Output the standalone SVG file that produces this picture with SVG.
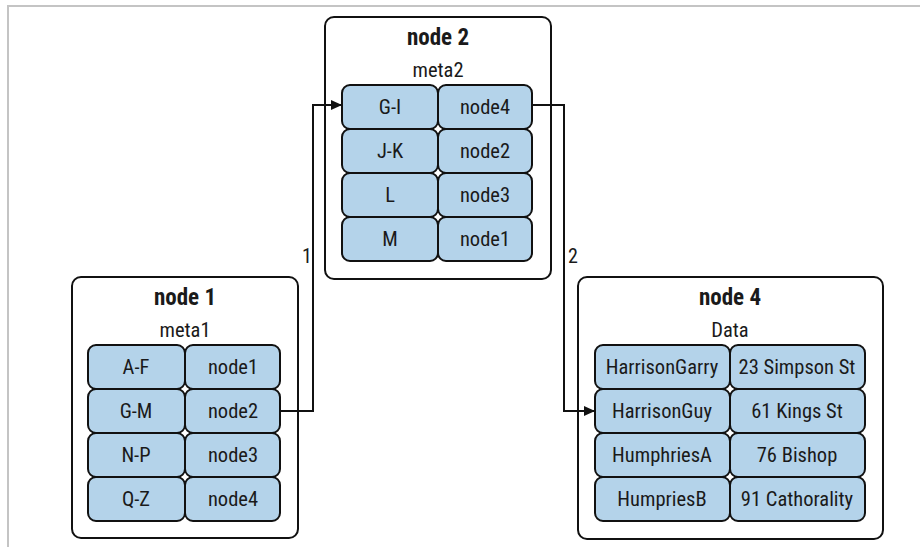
<svg xmlns="http://www.w3.org/2000/svg" width="920" height="547" viewBox="0 0 920 547">
  <defs>
    <style>
      .frame { fill: none; stroke: #c4c4c4; stroke-width: 2; }
      .box { fill: #ffffff; stroke: #111111; stroke-width: 2; }
      .cell { fill: #b4d3ea; stroke: #111111; stroke-width: 2; }
      .link { fill: none; stroke: #111111; stroke-width: 2; }
      text { font-family: "Roboto Condensed", "Liberation Sans Narrow", "Liberation Sans", sans-serif; fill: #1a1a1a; text-anchor: middle; }
      .title { font-size: 23px; font-weight: bold; }
      .sub { font-size: 20.5px; }
      .val { font-size: 20.5px; }
      .num { font-size: 20px; text-anchor: start; }
    </style>
    <marker id="arrow" markerWidth="12" markerHeight="10" refX="11" refY="5" orient="auto" markerUnits="userSpaceOnUse">
      <path d="M0,0 L11,5 L0,10 Z" fill="#111111"/>
    </marker>
  </defs>

  <rect width="920" height="547" fill="#ffffff"/>
  <path class="frame" d="M8,547 V6 H920"/>

  <!-- node 1 : meta1 -->
  <g id="node1">
    <rect class="box" x="72" y="277" width="226" height="261" rx="9"/>
    <text class="title" x="185" y="305">node 1</text>
    <text class="sub" x="185" y="337">meta1</text>
    <rect class="cell" x="88" y="345" width="97" height="44" rx="8"/>
    <rect class="cell" x="185" y="345" width="95" height="44" rx="8"/>
    <rect class="cell" x="88" y="389" width="97" height="44" rx="8"/>
    <rect class="cell" x="185" y="389" width="95" height="44" rx="8"/>
    <rect class="cell" x="88" y="433" width="97" height="44" rx="8"/>
    <rect class="cell" x="185" y="433" width="95" height="44" rx="8"/>
    <rect class="cell" x="88" y="477" width="97" height="44" rx="8"/>
    <rect class="cell" x="185" y="477" width="95" height="44" rx="8"/>
    <text class="val" x="136" y="374">A-F</text>
    <text class="val" x="233" y="374">node1</text>
    <text class="val" x="136" y="418">G-M</text>
    <text class="val" x="233" y="418">node2</text>
    <text class="val" x="136" y="462">N-P</text>
    <text class="val" x="233" y="462">node3</text>
    <text class="val" x="136" y="506">Q-Z</text>
    <text class="val" x="233" y="506">node4</text>
  </g>

  <!-- node 2 : meta2 -->
  <g id="node2">
    <rect class="box" x="325" y="17" width="226" height="262" rx="9"/>
    <text class="title" x="438" y="45">node 2</text>
    <text class="sub" x="438" y="77">meta2</text>
    <rect class="cell" x="342" y="85" width="96" height="44" rx="8"/>
    <rect class="cell" x="438" y="85" width="94" height="44" rx="8"/>
    <rect class="cell" x="342" y="129" width="96" height="44" rx="8"/>
    <rect class="cell" x="438" y="129" width="94" height="44" rx="8"/>
    <rect class="cell" x="342" y="173" width="96" height="44" rx="8"/>
    <rect class="cell" x="438" y="173" width="94" height="44" rx="8"/>
    <rect class="cell" x="342" y="217" width="96" height="44" rx="8"/>
    <rect class="cell" x="438" y="217" width="94" height="44" rx="8"/>
    <text class="val" x="390" y="114">G-I</text>
    <text class="val" x="485" y="114">node4</text>
    <text class="val" x="390" y="158">J-K</text>
    <text class="val" x="485" y="158">node2</text>
    <text class="val" x="390" y="202">L</text>
    <text class="val" x="485" y="202">node3</text>
    <text class="val" x="390" y="246">M</text>
    <text class="val" x="485" y="246">node1</text>
  </g>

  <!-- node 4 : data -->
  <g id="node4">
    <rect class="box" x="578" y="277" width="305" height="262" rx="9"/>
    <text class="title" x="730" y="305">node 4</text>
    <text class="sub" x="730" y="337">Data</text>
    <rect class="cell" x="595" y="345" width="135" height="44" rx="8"/>
    <rect class="cell" x="730" y="345" width="135" height="44" rx="8"/>
    <rect class="cell" x="595" y="389" width="135" height="44" rx="8"/>
    <rect class="cell" x="730" y="389" width="135" height="44" rx="8"/>
    <rect class="cell" x="595" y="433" width="135" height="44" rx="8"/>
    <rect class="cell" x="730" y="433" width="135" height="44" rx="8"/>
    <rect class="cell" x="595" y="477" width="135" height="44" rx="8"/>
    <rect class="cell" x="730" y="477" width="135" height="44" rx="8"/>
    <text class="val" x="662" y="374">HarrisonGarry</text>
    <text class="val" x="797" y="374">23 Simpson St</text>
    <text class="val" x="662" y="418">HarrisonGuy</text>
    <text class="val" x="797" y="418">61 Kings St</text>
    <text class="val" x="662" y="462">HumphriesA</text>
    <text class="val" x="797" y="462">76 Bishop</text>
    <text class="val" x="662" y="506">HumpriesB</text>
    <text class="val" x="797" y="506">91 Cathorality</text>
  </g>

  <!-- lookups -->
  <g id="connectors">
    <path class="link" d="M280,411 H313 V105 H342" marker-end="url(#arrow)"/>
    <path class="link" d="M532,105 H564 V411 H595" marker-end="url(#arrow)"/>
    <text class="num" x="302" y="263">1</text>
    <text class="num" x="568" y="263">2</text>
  </g>
</svg>
